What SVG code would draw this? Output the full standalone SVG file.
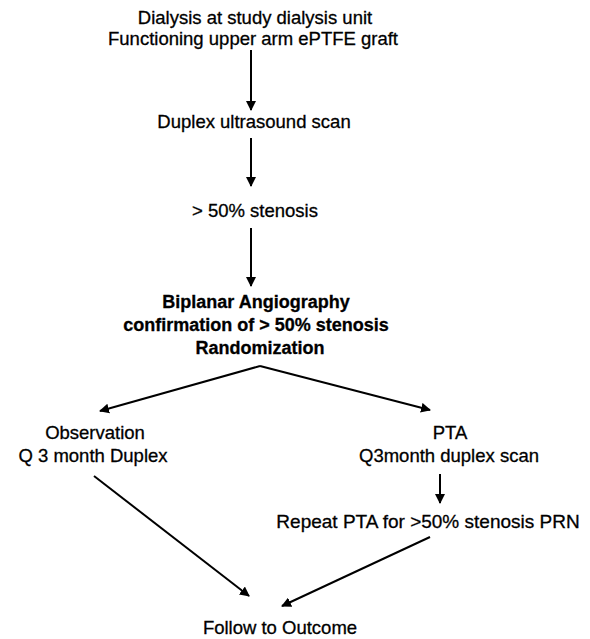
<svg xmlns="http://www.w3.org/2000/svg" width="590" height="639" viewBox="0 0 590 639">
<defs>
<style>
text{font-family:"Liberation Sans",Arial,sans-serif;font-size:18.5px;fill:#000;stroke:#000;stroke-width:0.3px;text-anchor:middle}
.b{font-weight:bold;font-size:18px}
.c{stroke:#000;stroke-width:2;fill:none}
</style>
<marker id="ah" viewBox="0 0 10 10" refX="9" refY="5" markerWidth="5" markerHeight="5" orient="auto" markerUnits="strokeWidth">
<path d="M0,0L10,5L0,10z" fill="#000"/>
</marker>
</defs>
<rect width="590" height="639" fill="#fff"/>
<g id="n1"><text x="255" y="24">Dialysis at study dialysis unit</text><text x="253" y="45">Functioning upper arm ePTFE graft</text></g>
<g id="n2"><text x="254" y="128">Duplex ultrasound scan</text></g>
<g id="n3"><text x="255" y="217">&gt; 50% stenosis</text></g>
<g id="n4"><text class="b" x="256" y="308">Biplanar Angiography</text><text class="b" x="256" y="331">confirmation of &gt; 50% stenosis</text><text class="b" x="260" y="354">Randomization</text></g>
<g id="n5"><text x="95" y="439">Observation</text><text x="93" y="462">Q 3 month Duplex</text></g>
<g id="n6"><text x="450" y="439">PTA</text><text x="449" y="462">Q3month duplex scan</text></g>
<g id="n7"><text x="428" y="528" style="font-size:19px">Repeat PTA for &gt;50% stenosis PRN</text></g>
<g id="n8"><text x="280" y="634">Follow to Outcome</text></g>
<g id="connectors">
<line class="c" x1="251" y1="50" x2="251" y2="110" marker-end="url(#ah)"/>
<line class="c" x1="251" y1="138" x2="251" y2="186" marker-end="url(#ah)"/>
<line class="c" x1="251" y1="228" x2="251" y2="286" marker-end="url(#ah)"/>
<line class="c" x1="260" y1="366" x2="100" y2="411" marker-end="url(#ah)"/>
<line class="c" x1="260" y1="366" x2="430" y2="410" marker-end="url(#ah)"/>
<line class="c" x1="440" y1="474" x2="440" y2="503" marker-end="url(#ah)"/>
<line class="c" x1="94" y1="476" x2="249" y2="596" marker-end="url(#ah)"/>
<line class="c" x1="430" y1="537" x2="282" y2="606" marker-end="url(#ah)"/>
</g>
</svg>
